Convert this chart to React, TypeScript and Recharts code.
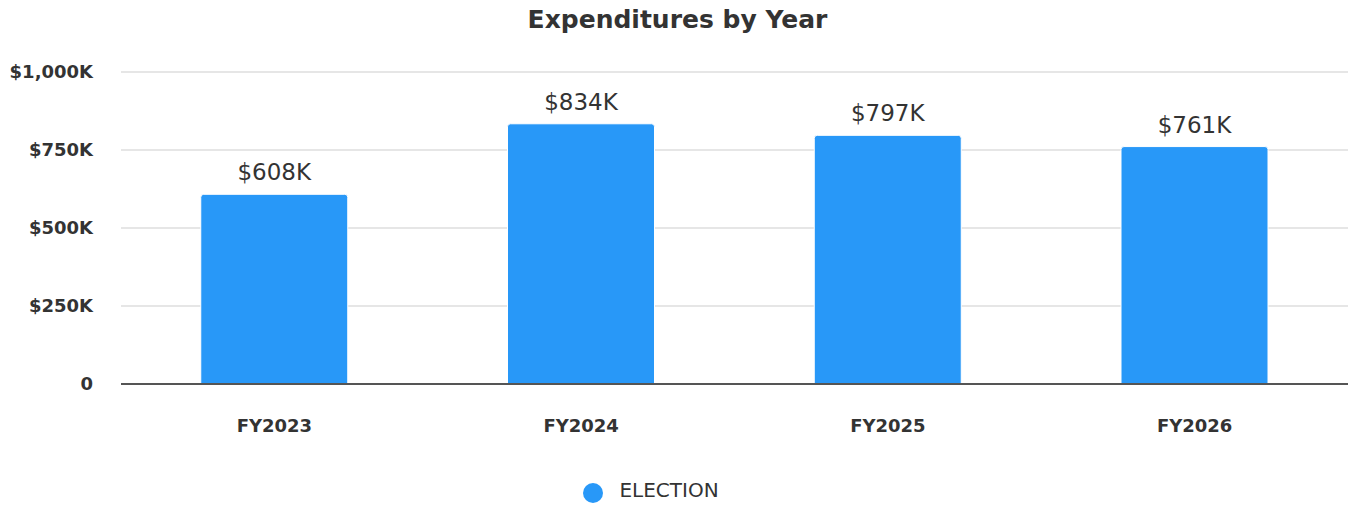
import React from 'react';
import { BarChart, Bar, XAxis, YAxis, CartesianGrid, Legend, LabelList } from 'recharts';

const years = ['FY2023', 'FY2024', 'FY2025', 'FY2026'];
const election = [608000, 834000, 797000, 761000];
const yTicks = [0, 250000, 500000, 750000, 1000000];

const data = years.map((year, i) => ({ year, ELECTION: election[i] }));

const FONT = '"DejaVu Sans", "Open Sans", sans-serif';

const money = (v: number) => (v === 0 ? '0' : `$${(v / 1000).toLocaleString('en-US')}K`);

const App = () => {
    return (
        <div style={{ position: 'absolute', left: 0, top: 0, width: 1355, height: 508, fontFamily: FONT, background: '#fff' }}>
            {/* Title */}
            <div style={{ position: 'absolute', top: 5, left: 0, width: 1355, textAlign: 'center', fontSize: 25, fontWeight: 700, color: '#333' }}>
                Expenditures by Year
            </div>
            <BarChart
                width={1355}
                height={508}
                data={data}
                margin={{ top: 72, right: 7, left: 0, bottom: -2 }}
                barCategoryGap="26%"
            >
                <CartesianGrid vertical={false} stroke="#e6e6e6" strokeWidth={2} />
                <XAxis
                    dataKey="year"
                    axisLine={{ stroke: '#555', strokeWidth: 2 }}
                    tickLine={false}
                    tickMargin={29}
                    height={60}
                    tick={{ fontSize: 18, fontWeight: 700, fill: '#333', fontFamily: FONT }}
                />
                <YAxis
                    width={121}
                    domain={[0, 1000000]}
                    ticks={yTicks}
                    tickFormatter={money}
                    axisLine={false}
                    tickLine={false}
                    tickMargin={22}
                    tick={{ fontSize: 18, fontWeight: 700, fill: '#333', fontFamily: FONT }}
                />
                <Legend
                    verticalAlign="bottom"
                    height={34}
                    iconType="circle"
                    iconSize={20}
                    formatter={(value) => (
                        <span style={{ color: '#333', fontSize: 20, marginLeft: 12, fontFamily: FONT }}>{value}</span>
                    )}
                    wrapperStyle={{ paddingTop: 32, transform: 'translate(-18px, 2px)' }}
                />
                <Bar dataKey="ELECTION" fill="#2898f8" stroke="#ffffff" strokeWidth={1} radius={[3, 3, 0, 0]} isAnimationActive={false}>
                    <LabelList
                        dataKey="ELECTION"
                        position="top"
                        offset={14}
                        formatter={(v: any) => money(Number(v))}
                        style={{ fontSize: 23, fontWeight: 400, fill: '#333', fontFamily: FONT }}
                    />
                </Bar>
            </BarChart>
        </div>
    );
};

export default App;
